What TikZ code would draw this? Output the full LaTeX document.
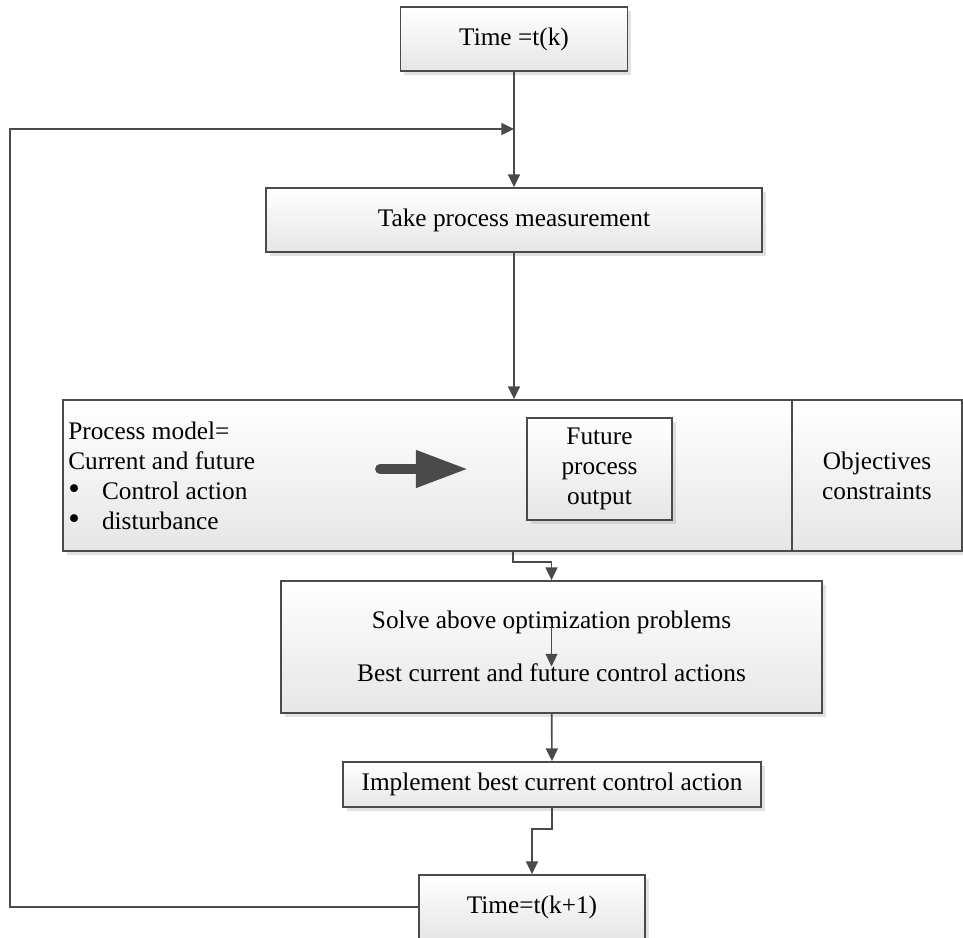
\documentclass[tikz,border=0pt]{standalone}
\usepackage{fontspec}
\setmainfont{Liberation Serif}
\usepackage{xcolor}
\usepackage{tikz}
\usetikzlibrary{arrows.meta,positioning,shadows}
\definecolor{rim}{HTML}{4A4A4A}
\definecolor{haze}{HTML}{E6E6E6}
\newcommand{\bigdot}{\makebox[24pt][l]{\scalebox{1.3}{\textbullet}}}

\begin{document}
\begin{tikzpicture}[>={Triangle[length=9pt,width=8.5pt]},
  txt/.style={font=\fontsize{18}{21.3}\selectfont,inner sep=0pt},
  block/.style={txt,draw=rim,line width=1.3pt,top color=white,bottom color=haze,
    drop shadow={shadow xshift=2.5pt,shadow yshift=-2.5pt,opacity=.25,fill=black!45},
    align=center},
  flow/.style={->,draw=rim,line width=1.2pt}]
  \useasboundingbox (0,0) rectangle (24.075,-23.425);
  \node[block,minimum width=5.675cm,minimum height=1.6cm] (tk) at (12.85,-0.975) {Time =t(k)};
  \node[block,minimum width=12.4cm,minimum height=1.6cm] (meas) at (12.85,-5.5) {Take process measurement};
  \node[block,minimum width=18.225cm,minimum height=3.775cm] (model) at (10.6875,-11.8875) {};
  \node[block,minimum width=4.25cm,minimum height=3.775cm] (obj) at (21.925,-11.8875) {Objectives\\constraints};
  \node[txt,anchor=west,align=left] (modtext) at (1.7,-11.9)
    {Process model=\\Current and future\\\bigdot Control action\\\bigdot disturbance};
  \node[block,minimum width=3.625cm,minimum height=2.55cm] (fut) at (14.9875,-11.725) {Future\\process\\output};
  \coordinate (fat1) at (9.5,-11.725);
  \coordinate (fat2) at (11.7,-11.725);
  \draw[rim,line width=7pt,line cap=round,-{Triangle[length=37pt,width=25pt]}] (fat1) -- (fat2);
  \node[block,minimum width=13.525cm,minimum height=3.3cm] (solve) at (13.7875,-16.175) {};
  \node[txt] (solve1) at (13.7875,-15.55) {Solve above optimization problems};
  \node[txt] (solve2) at (13.7875,-16.825) {Best current and future control actions};
  \node[block,minimum width=10.45cm,minimum height=1.125cm] (impl) at (13.8,-19.6125) {Implement best current control action};
  \node[block,minimum width=5.65cm,minimum height=1.6cm] (tk1) at (13.3,-22.675) {Time=t(k+1)};
  % connectors
  \coordinate (mk) at (12.825,-14.05);
  \coordinate (ik) at (13.8,-20.725);
  \coordinate (lp) at (0.25,-3.225);
  \draw[flow] (tk) -- (meas);
  \draw[flow] (meas.south) -- (meas.south |- model.north);
  \draw[flow] (model.south -| mk) -- (mk) -| (solve.north);
  \draw[flow,line width=.8pt] (solve1.center) -- ([yshift=-2pt]solve2.north);
  \draw[flow] (solve) -- (impl);
  \draw[flow] (impl.south) -- (ik) -| (tk1.north);
  \draw[flow] (tk1.west) -| (lp) -- (lp -| tk.south);
\end{tikzpicture}
\end{document}
